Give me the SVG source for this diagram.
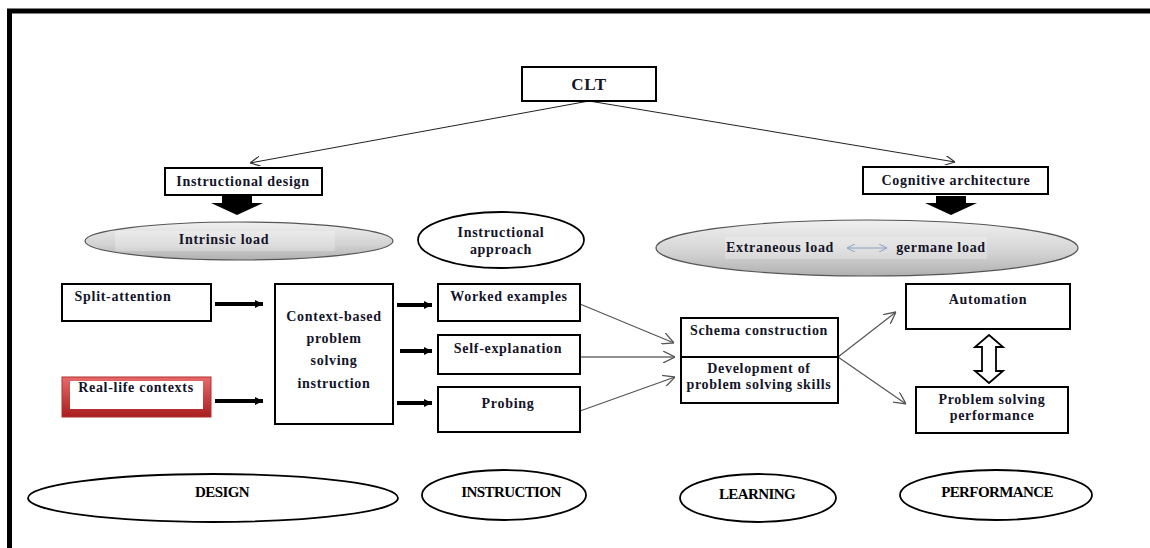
<svg xmlns="http://www.w3.org/2000/svg" width="1150" height="548" viewBox="0 0 1150 548">
<defs>
<style>
.box{fill:#fff;stroke:#000;stroke-width:2}
.t{font-family:"Liberation Serif",serif;font-weight:bold;font-size:14px;letter-spacing:0.7px;fill:#141428;text-anchor:middle}
.tb{font-family:"Liberation Serif",serif;font-size:15px;fill:#000;text-anchor:middle;letter-spacing:-0.6px;font-weight:bold}
.thin{stroke:#222;stroke-width:1;fill:none}
.gray{stroke:#555;stroke-width:1.2;fill:none}
.thick{stroke:#000;stroke-width:4;fill:none}
.oval{fill:#fff;stroke:#000;stroke-width:1.8}
.goval{fill:url(#gg);stroke:#555;stroke-width:1.2}
</style>
<linearGradient id="gg" x1="0" y1="0" x2="0" y2="1">
<stop offset="0" stop-color="#f0f0f0"/>
<stop offset="0.6" stop-color="#d2d2d2"/>
<stop offset="1" stop-color="#b0b0b0"/>
</linearGradient>
<linearGradient id="rg" x1="0" y1="0" x2="0" y2="1">
<stop offset="0" stop-color="#e86a6a"/>
<stop offset="1" stop-color="#a81e1e"/>
</linearGradient>
<marker id="open" viewBox="0 0 10 10" refX="10" refY="5" markerWidth="10" markerHeight="10" markerUnits="userSpaceOnUse" orient="auto">
<path d="M0,0 L10,5 L0,10" fill="none" stroke="#333" stroke-width="1.2"/>
</marker>
<marker id="openg" viewBox="0 0 12 12" refX="12" refY="6" markerWidth="12" markerHeight="12" markerUnits="userSpaceOnUse" orient="auto">
<path d="M0,0 L12,6 L0,12" fill="none" stroke="#555" stroke-width="1.3"/>
</marker>
<marker id="blue" viewBox="0 0 8 8" refX="8" refY="4" markerWidth="8" markerHeight="8" markerUnits="userSpaceOnUse" orient="auto-start-reverse">
<path d="M0,0 L8,4 L0,8" fill="none" stroke="#8aa2c4" stroke-width="1"/>
</marker>
<marker id="solid" viewBox="0 0 8 8" refX="8" refY="4" markerWidth="8" markerHeight="8" markerUnits="userSpaceOnUse" orient="auto">
<path d="M0,0 L8,4 L0,8 Z" fill="#000"/>
</marker>
</defs>
<rect width="1150" height="548" fill="#fff"/>
<rect x="9.5" y="11" width="1200" height="600" fill="none" stroke="#000" stroke-width="5"/>

<g id="connectors">
<line class="thin" x1="589" y1="101" x2="250" y2="163" marker-end="url(#open)"/>
<line class="thin" x1="589" y1="101" x2="955" y2="162" marker-end="url(#open)"/>
<path d="M222,196 H252 V203 H263 L237,215 L211,203 H222 Z" fill="#000"/>
<path d="M936,196 H966 V203 H977 L951,215 L925,203 H936 Z" fill="#000"/>
<line class="thick" x1="215" y1="304" x2="263" y2="304" marker-end="url(#solid)"/>
<line class="thick" x1="215" y1="401" x2="263" y2="401" marker-end="url(#solid)"/>
<line class="thick" x1="397" y1="305" x2="432" y2="305" marker-end="url(#solid)"/>
<line class="thick" x1="400" y1="351" x2="432" y2="351" marker-end="url(#solid)"/>
<line class="thick" x1="397" y1="403" x2="432" y2="403" marker-end="url(#solid)"/>
<line class="gray" x1="580" y1="304" x2="674" y2="343" marker-end="url(#openg)"/>
<line class="thin" x1="580" y1="357" x2="675" y2="357" marker-end="url(#openg)"/>
<line class="gray" x1="580" y1="411" x2="675" y2="377" marker-end="url(#openg)"/>
<line class="gray" x1="838" y1="357" x2="896" y2="312" marker-end="url(#openg)"/>
<line class="gray" x1="838" y1="357" x2="906" y2="404" marker-end="url(#openg)"/>
<path d="M989,335 L1003,347 H996 V371 H1003 L989,383 L975,371 H982 V347 H975 Z" fill="#fff" stroke="#000" stroke-width="1.8"/>
</g>

<g id="clt"><rect class="box" x="522" y="67" width="134" height="34"/><text class="t" x="589" y="90" style="font-size:17px">CLT</text></g>
<g id="instructional-design"><rect class="box" x="165" y="168" width="157" height="27"/><text class="t" x="243" y="186">Instructional design</text></g>
<g id="cognitive-architecture"><rect class="box" x="863" y="167" width="185" height="27"/><text class="t" x="956" y="185">Cognitive architecture</text></g>

<g id="intrinsic-load"><ellipse class="goval" cx="239" cy="241" rx="154" ry="19"/><rect x="115" y="231" width="220" height="20" fill="#fff" opacity="0.25"/><text class="t" x="224" y="244">Intrinsic load</text></g>
<g id="instructional-approach"><ellipse class="oval" cx="501" cy="240" rx="83" ry="28"/><text class="t" x="501" y="237">Instructional</text><text class="t" x="501" y="254">approach</text></g>
<g id="extraneous-germane"><ellipse class="goval" cx="867" cy="248" rx="211" ry="28"/><rect x="725" y="237" width="262" height="22" fill="#fff" opacity="0.25"/><text class="t" x="780" y="252">Extraneous load</text><line x1="847" y1="248" x2="887" y2="248" stroke="#8aa2c4" stroke-width="1" marker-start="url(#blue)" marker-end="url(#blue)"/><text class="t" x="941" y="252">germane load</text></g>

<g id="split-attention"><rect class="box" x="62" y="284" width="149" height="37"/><text class="t" x="123" y="301">Split-attention</text></g>
<g id="real-life-contexts"><rect x="62" y="377" width="149" height="40" fill="url(#rg)" stroke="#b03030" stroke-width="1"/><rect x="70" y="381" width="133" height="28" fill="#fff"/><text class="t" x="136" y="392">Real-life contexts</text></g>
<g id="context-based"><rect class="box" x="275" y="284" width="118" height="140"/><text class="t" x="334" y="321">Context-based</text><text class="t" x="334" y="343">problem</text><text class="t" x="334" y="365">solving</text><text class="t" x="334" y="388">instruction</text></g>

<g id="worked-examples"><rect class="box" x="438" y="284" width="142" height="37"/><text class="t" x="509" y="301">Worked examples</text></g>
<g id="self-explanation"><rect class="box" x="438" y="335" width="142" height="39"/><text class="t" x="508" y="353">Self-explanation</text></g>
<g id="probing"><rect class="box" x="438" y="387" width="142" height="45"/><text class="t" x="508" y="408">Probing</text></g>

<g id="schema"><rect class="box" x="681" y="318" width="157" height="85"/><line x1="681" y1="357" x2="838" y2="357" stroke="#000" stroke-width="2"/><text class="t" x="759" y="335">Schema construction</text><text class="t" x="759" y="373">Development of</text><text class="t" x="759" y="389">problem solving skills</text></g>

<g id="automation"><rect class="box" x="906" y="284" width="164" height="45"/><text class="t" x="988" y="304">Automation</text></g>
<g id="problem-solving-performance"><rect class="box" x="916" y="387" width="152" height="46"/><text class="t" x="992" y="404">Problem solving</text><text class="t" x="992" y="420">performance</text></g>

<g id="design"><ellipse class="oval" cx="213" cy="498" rx="185" ry="24"/><text class="tb" x="222" y="497">DESIGN</text></g>
<g id="instruction"><ellipse class="oval" cx="504" cy="495" rx="82" ry="25"/><text class="tb" x="511" y="497">INSTRUCTION</text></g>
<g id="learning"><ellipse class="oval" cx="758" cy="498" rx="78" ry="24"/><text class="tb" x="757" y="499">LEARNING</text></g>
<g id="performance"><ellipse class="oval" cx="996" cy="495" rx="96" ry="25"/><text class="tb" x="997" y="497">PERFORMANCE</text></g>
</svg>
